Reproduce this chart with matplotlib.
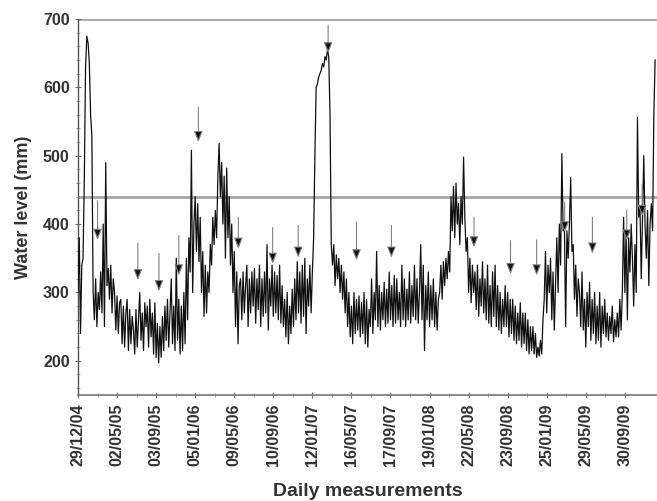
import matplotlib
matplotlib.use("Agg")
import matplotlib.pyplot as plt
import numpy as np
import pandas as pd
from matplotlib.ticker import MultipleLocator, FixedLocator

plt.rcParams['font.family'] = ['Liberation Sans', 'DejaVu Sans']
plt.rcParams['font.weight'] = 'bold'

# Water level readings, one value every 4 days starting 29/12/2004 (mm)
start_date = "2004-12-29"
step_days = 4

level_2005 = [300, 380, 240, 340,
              350, 465, 630, 675, 665, 635, 560, 530, 300,
              260, 320, 250, 300, 275,
              330, 270, 400, 250, 490, 310,
              335, 290, 340, 270, 320,
              300, 245, 295, 240, 285,
              290, 225, 280, 220, 270,
              290, 215, 275, 225, 265,
              245, 210, 275, 220, 260,
              300, 230, 270, 215, 285,
              250, 280, 220, 290, 235,
              270, 210, 285, 205, 255,
              197, 250, 205, 265, 215,
              280, 230, 290, 220, 270,
              320, 225, 280, 215, 350,
              230, 290, 210, 280, 215,
              300, 225, 350, 260,
              380, 330, 508, 300]

level_2006 = [400,
              440, 360, 430, 345, 410,
              300, 360, 265, 340, 270, 330,
              300, 370, 340, 410,
              370, 420, 380, 470,
              518, 440, 490,
              400, 470, 350, 482, 380,
              440, 340, 400, 300, 360,
              250, 330, 225, 310,
              320, 260, 330, 270, 310,
              340, 250, 320, 270, 330,
              280, 335, 255, 320, 275,
              340, 250, 320, 265, 330,
              270, 370, 245, 320, 280,
              340, 265, 330, 270, 325,
              260, 340, 255, 310, 250,
              290, 235, 300, 225, 280,
              240, 305, 250, 320, 260,
              345, 270, 330, 255, 340,
              265, 350, 240, 320, 280]

level_2007 = [340, 270, 330,
              380, 500, 600, 605, 615, 620, 625, 635, 630, 645, 640, 655, 645, 560, 370,
              340, 370, 310, 355, 320,
              350, 300, 340, 290, 330,
              270, 320, 250, 300, 235,
              280, 225, 300, 240, 290,
              245, 295, 235, 285, 240,
              300, 225, 290, 220, 275,
              250, 320, 240, 300, 260,
              360, 250, 310, 245, 300,
              260, 315, 250, 305, 255,
              330, 260, 310, 250, 325,
              255, 320, 260, 300, 250,
              340, 260, 320, 250, 305,
              260, 330, 255, 310, 265,
              340, 260, 320, 255, 300,
              370, 260, 340]

level_2008 = [215, 310,
              260, 330, 250, 310, 260,
              320, 250, 300, 245, 290,
              300, 340, 290, 345, 310,
              350, 320, 360, 330,
              440, 390, 455, 380, 460, 400, 430, 370, 440, 400, 498, 410, 360, 380,
              300, 350, 285, 340, 300,
              330, 275, 340, 265, 320,
              280, 345, 270, 320, 260,
              340, 255, 310, 250, 330,
              265, 340, 250, 310, 245,
              300, 240, 290, 250, 310,
              250, 300, 235, 290, 240,
              290, 230, 280, 225, 270,
              230, 285, 220, 270, 225,
              270, 215, 260, 210, 250,
              215, 250, 210, 240, 205,
              220]

level_2009 = [207, 230, 210, 260,
              290, 360, 270, 340, 300,
              350, 260, 330, 245, 310,
              380, 300, 400, 340,
              503, 390, 400, 250, 390, 350, 400, 468, 360,
              370, 290, 340, 265, 320,
              300, 250, 330, 245, 290,
              220, 300, 250, 315, 230,
              290, 240, 300, 225, 280,
              230, 300, 220, 280, 240,
              290, 235, 270, 230, 265,
              240, 280, 228, 260, 235,
              270, 235, 290, 245, 300,
              410, 300, 390, 260,
              380, 330, 400, 350,
              280, 370, 300,
              556, 410, 425, 320, 410, 500, 400, 350, 420, 310, 400, 430, 390, 560, 640]

tick_labels = ["29/12/04", "02/05/05", "03/09/05", "05/01/06", "09/05/06",
               "10/09/06", "12/01/07", "16/05/07", "17/09/07", "19/01/08",
               "22/05/08", "23/09/08", "25/01/09", "29/05/09", "30/09/09"]

# Marked events: day offset from start, arrow tip level and tail level (mm)
arrow_day = [62, 190, 257, 320, 382, 509, 618, 699, 794, 884, 995,
             1257, 1373, 1456, 1545, 1633, 1742, 1791]
arrow_tip = [377, 318, 302, 325, 520, 364, 342, 351, 650, 347, 351,
             366, 327, 325, 388, 357, 376, 412]
arrow_tail = [434, 372, 357, 383, 571, 410, 395, 398, 691, 403, 398,
              410, 376, 377, 432, 410, 420, 458]

ref_levels = [700, 440]

levels = np.array(level_2005 + level_2006 + level_2007 + level_2008 + level_2009)
t0 = pd.Timestamp(start_date)
dates = pd.date_range(t0, periods=len(levels), freq=f"{step_days}D")

fig = plt.figure(figsize=(6.57, 5.01), dpi=100)
ax = fig.add_axes([78 / 657, 106 / 501, 579 / 657, 376 / 501])

for lvl in ref_levels:
    ax.axhline(lvl, color='#a6a6a6', lw=2.0, zorder=1)

ax.plot(dates, levels, color='#111111', lw=0.9, zorder=3)

for d, tip, tail in zip(arrow_day, arrow_tip, arrow_tail):
    x = t0 + pd.Timedelta(days=d)
    ax.annotate('', xy=(x, tip), xytext=(x, tail),
                arrowprops=dict(arrowstyle='-|>,head_length=0.5,head_width=0.2',
                                mutation_scale=13, lw=0.8,
                                ec='#808080', fc='#111111',
                                shrinkA=0, shrinkB=0),
                zorder=4)

tick_dates = pd.to_datetime(tick_labels, format="%d/%m/%y")
ax.set_xlim(t0, t0 + pd.Timedelta(days=1838))
ax.set_ylim(150, 700)

ax.xaxis.set_major_locator(FixedLocator(matplotlib.dates.date2num(tick_dates)))
ax.set_xticklabels(tick_labels, rotation=90)
mids = tick_dates[:-1] + (tick_dates[1:] - tick_dates[:-1]) / 2
ax.xaxis.set_minor_locator(FixedLocator(matplotlib.dates.date2num(mids)))

ax.set_yticks([200, 300, 400, 500, 600, 700])
ax.yaxis.set_minor_locator(MultipleLocator(20))

for side in ('top', 'right'):
    ax.spines[side].set_visible(False)
ax.spines['left'].set_color('#555555')
ax.spines['bottom'].set_color('#777777')
ax.spines['left'].set_linewidth(1.0)
ax.spines['bottom'].set_linewidth(1.2)

ax.tick_params(axis='both', which='major', direction='inout', length=4,
               width=0.8, color='#777777', labelcolor='#333333',
               labelsize=11.5, pad=4)
ax.tick_params(axis='both', which='minor', direction='inout', length=2.5,
               width=0.6, color='#999999')

ax.set_ylabel("Water level (mm)", fontsize=13, fontweight='bold',
              color='#333333', labelpad=8)
ax.set_xlabel("Daily measurements", fontsize=14, fontweight='bold',
              color='#333333', labelpad=12)

fig.savefig("out.png", dpi=100)
